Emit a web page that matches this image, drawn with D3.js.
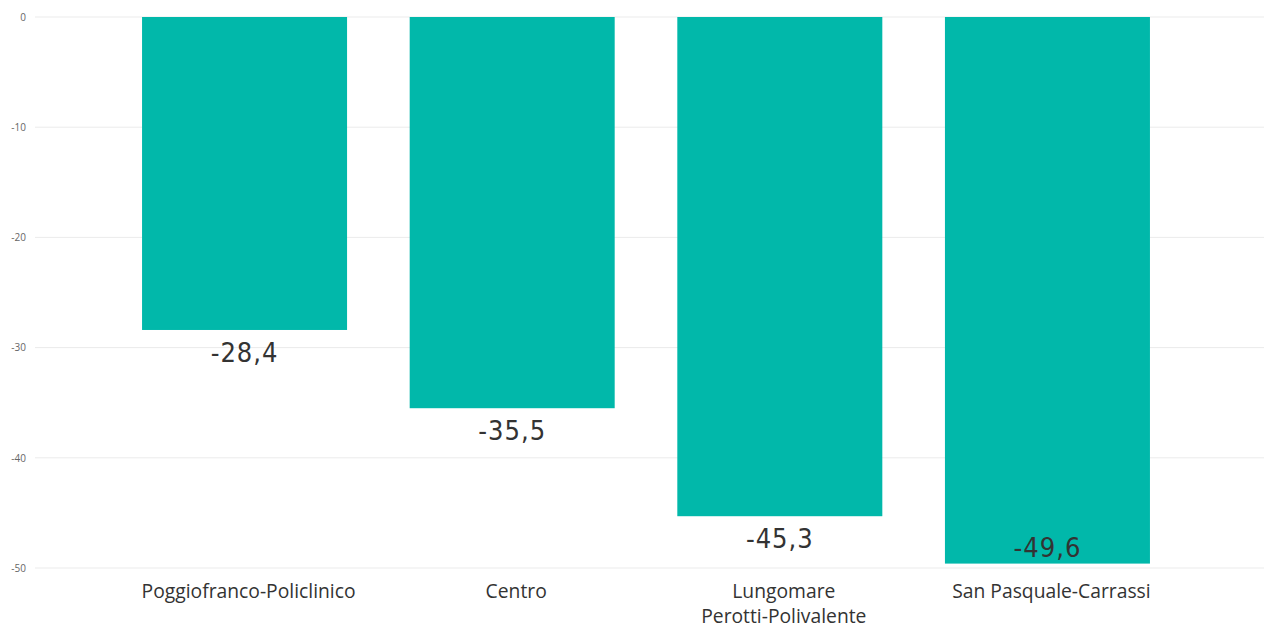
<!DOCTYPE html>
<html>
<head>
<meta charset="utf-8">
<script src="https://cdn.jsdelivr.net/npm/d3@7"></script>
<style>
    body { margin: 0; background: #fff; }
    svg { display: block; }
</style>
</head>
<body>
<svg id="chart" width="1264" height="630"></svg>
<script>
// data
const categories = ["Poggiofranco-Policlinico", "Centro", "Lungomare Perotti-Polivalente", "San Pasquale-Carrassi"];
const values = [-28.4, -35.5, -45.3, -49.6];
const yTicks = [0, -10, -20, -30, -40, -50];

const W = 1264, H = 630;
const svg = d3.select('#chart');

const it = d3.formatLocale({ decimal: ",", thousands: ".", grouping: [3], currency: ["€", ""], minus: "-" });
const fmt = it.format(".1f");

const x = d3.scaleBand()
    .domain(categories)
    .range([35, 1257])
    .paddingInner(0.234)
    .paddingOuter(0.4);

const y = d3.scaleLinear()
    .domain([0, -50])
    .range([17, 568]);

// gridlines
svg.append('g')
    .selectAll('line')
    .data(yTicks)
    .join('line')
        .attr('x1', 35)
        .attr('x2', W)
        .attr('y1', d => y(d))
        .attr('y2', d => y(d))
        .style('stroke', '#ebebeb')
        .style('stroke-width', 1);

// y axis labels
const yAxis = svg.append('g')
    .attr('transform', 'translate(26,0)')
    .call(d3.axisLeft(y).tickValues(yTicks).tickSize(0).tickPadding(0).tickFormat(d => d));
yAxis.select('.domain').remove();
yAxis.selectAll('text')
    .style('font-family', '"Open Sans", "Noto Sans", sans-serif')
    .style('font-size', '10px')
    .style('fill', '#666');

// bars
svg.append('g')
    .selectAll('rect')
    .data(values)
    .join('rect')
        .attr('x', (d, i) => x(categories[i]))
        .attr('y', y(0))
        .attr('width', x.bandwidth())
        .attr('height', d => y(d) - y(0))
        .style('fill', '#01B8AA');

// value labels
svg.append('g')
    .selectAll('text')
    .data(values)
    .join('text')
        .attr('x', (d, i) => x(categories[i]) + x.bandwidth() / 2)
        .attr('y', d => {
            let yy = y(d) + 32;
            if (yy > y(-50) - 4) yy = y(d) - 7; // no room below, put inside
            return yy;
        })
        .attr('text-anchor', 'middle')
        .style('font-family', '"DejaVu Sans Condensed", "Liberation Sans Narrow", sans-serif')
        .style('font-size', '27px')
        .style('letter-spacing', '1px')
        .style('fill', '#333')
        .text(d => fmt(d));

// category labels, wrapped (slightly right of bar centre, like the original)
const lx = d => x(d) + x.bandwidth() / 2 + 4;
const xl = svg.append('g')
    .selectAll('text')
    .data(categories)
    .join('text')
        .attr('x', lx)
        .attr('y', 598)
        .attr('text-anchor', 'middle')
        .style('font-family', '"Open Sans", "Noto Sans", sans-serif')
        .style('font-size', '19.3px')
        .style('fill', '#333');

xl.each(function(d) {
    let el = d3.select(this);
    let lines = [d];
    if (d.length > 26) {
        let k = d.indexOf(' ');
        lines = [d.slice(0, k), d.slice(k + 1)];
    }
    lines.forEach((l, i) => {
        el.append('tspan')
            .attr('x', lx(d))
            .attr('dy', i ? 24.5 : 0)
            .text(l);
    });
});
</script>
</body>
</html>
